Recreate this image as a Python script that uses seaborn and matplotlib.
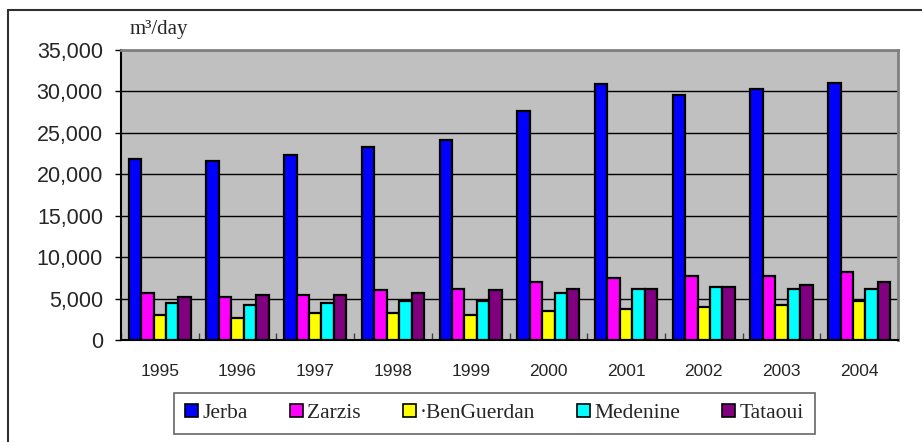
import pandas as pd
import matplotlib.pyplot as plt
import seaborn as sns
from matplotlib.lines import Line2D
from matplotlib.ticker import FuncFormatter, FixedLocator

# --- Datos (m3/day) ---
years = ['1995', '1996', '1997', '1998', '1999', '2000', '2001', '2002', '2003', '2004']
cities = ['Jerba', 'Zarzis', '·BenGuerdan', 'Medenine', 'Tataoui']
jerba = [21900, 21600, 22350, 23350, 24100, 27600, 30850, 29550, 30300, 31050]
zarzis = [5700, 5200, 5400, 6000, 6200, 6950, 7450, 7700, 7700, 8200]
benguerdan = [3000, 2700, 3200, 3200, 3000, 3450, 3700, 4000, 4200, 4700]
medenine = [4450, 4200, 4450, 4700, 4700, 5650, 6200, 6400, 6200, 6200]
tataoui = [5200, 5400, 5400, 5650, 6000, 6200, 6200, 6400, 6650, 6950]
colores = ['#0000ff', '#ff00ff', '#ffff00', '#00ffff', '#800080']

series = [jerba, zarzis, benguerdan, medenine, tataoui]
df = pd.DataFrame({
    'year': years * len(cities),
    'city': [c for c in cities for _ in years],
    'value': [v for s in series for v in s],
})

sns.set_theme(style="white")
plt.rcParams['font.family'] = ['Liberation Sans', 'DejaVu Sans']

fig = plt.figure(figsize=(9.22, 4.42), dpi=100)
ax = fig.add_axes([121 / 922, 1 - 340 / 442, 777 / 922, 290 / 442])
ax.set_facecolor('#c0c0c0')

sns.barplot(data=df, x='year', y='value', hue='city', order=years, hue_order=cities,
            palette=colores, edgecolor='black', linewidth=1.6, width=0.8,
            saturation=1, ax=ax, zorder=3)

ax.set_ylim(0, 35000)
ax.set_xlim(-0.5, len(years) - 0.5)
ax.set_yticks(range(0, 35001, 5000))
ax.yaxis.set_major_formatter(FuncFormatter(lambda v, p: f'{int(v):,}'))
ax.grid(axis='y', color='black', linewidth=1, zorder=0)
ax.set_axisbelow(True)
ax.set_xlabel('')
ax.set_ylabel('')

ax.tick_params(axis='y', labelsize=15.5, length=4, width=1, color='black', pad=9, left=True)
ax.tick_params(axis='x', which='major', labelsize=12.5, length=0, pad=17)
ax.xaxis.set_minor_locator(FixedLocator([i - 0.5 for i in range(len(years) + 1)]))
ax.tick_params(axis='x', which='minor', direction='in', length=5, width=1, color='#404040', bottom=True)

for side in ['left', 'bottom']:
    ax.spines[side].set_color('black')
    ax.spines[side].set_linewidth(1.5)
for side in ['top', 'right']:
    ax.spines[side].set_color('#808080')
    ax.spines[side].set_linewidth(2)

# Unidad
fig.text(130 / 922, 1 - 34 / 442, 'm³/day', fontsize=15, family='Liberation Serif',
         ha='left', va='baseline')

# Leyenda
ax.get_legend().remove()
handles = [plt.Rectangle((0, 0), 1, 1, facecolor=c, edgecolor='black', linewidth=1.2) for c in colores]
leg = fig.legend(handles, cities, loc='center', ncol=5,
                 bbox_to_anchor=(494.5 / 922, 1 - 413.5 / 442), bbox_transform=fig.transFigure,
                 prop={'family': 'Liberation Serif', 'size': 15.5},
                 frameon=True, fancybox=False, edgecolor='#404040',
                 handlelength=0.6, handleheight=0.6, handletextpad=0.2,
                 columnspacing=1.95, borderpad=0.5, borderaxespad=0)
leg.get_frame().set_linewidth(1.2)

# Marco exterior
fig.add_artist(Line2D([8 / 922, 8 / 922], [0, 1 - 10 / 442], transform=fig.transFigure,
                      color='#303030', linewidth=1.5))
fig.add_artist(Line2D([8 / 922, 1], [1 - 10 / 442, 1 - 10 / 442], transform=fig.transFigure,
                      color='#303030', linewidth=1.5))

fig.savefig('out.png', dpi=100)
